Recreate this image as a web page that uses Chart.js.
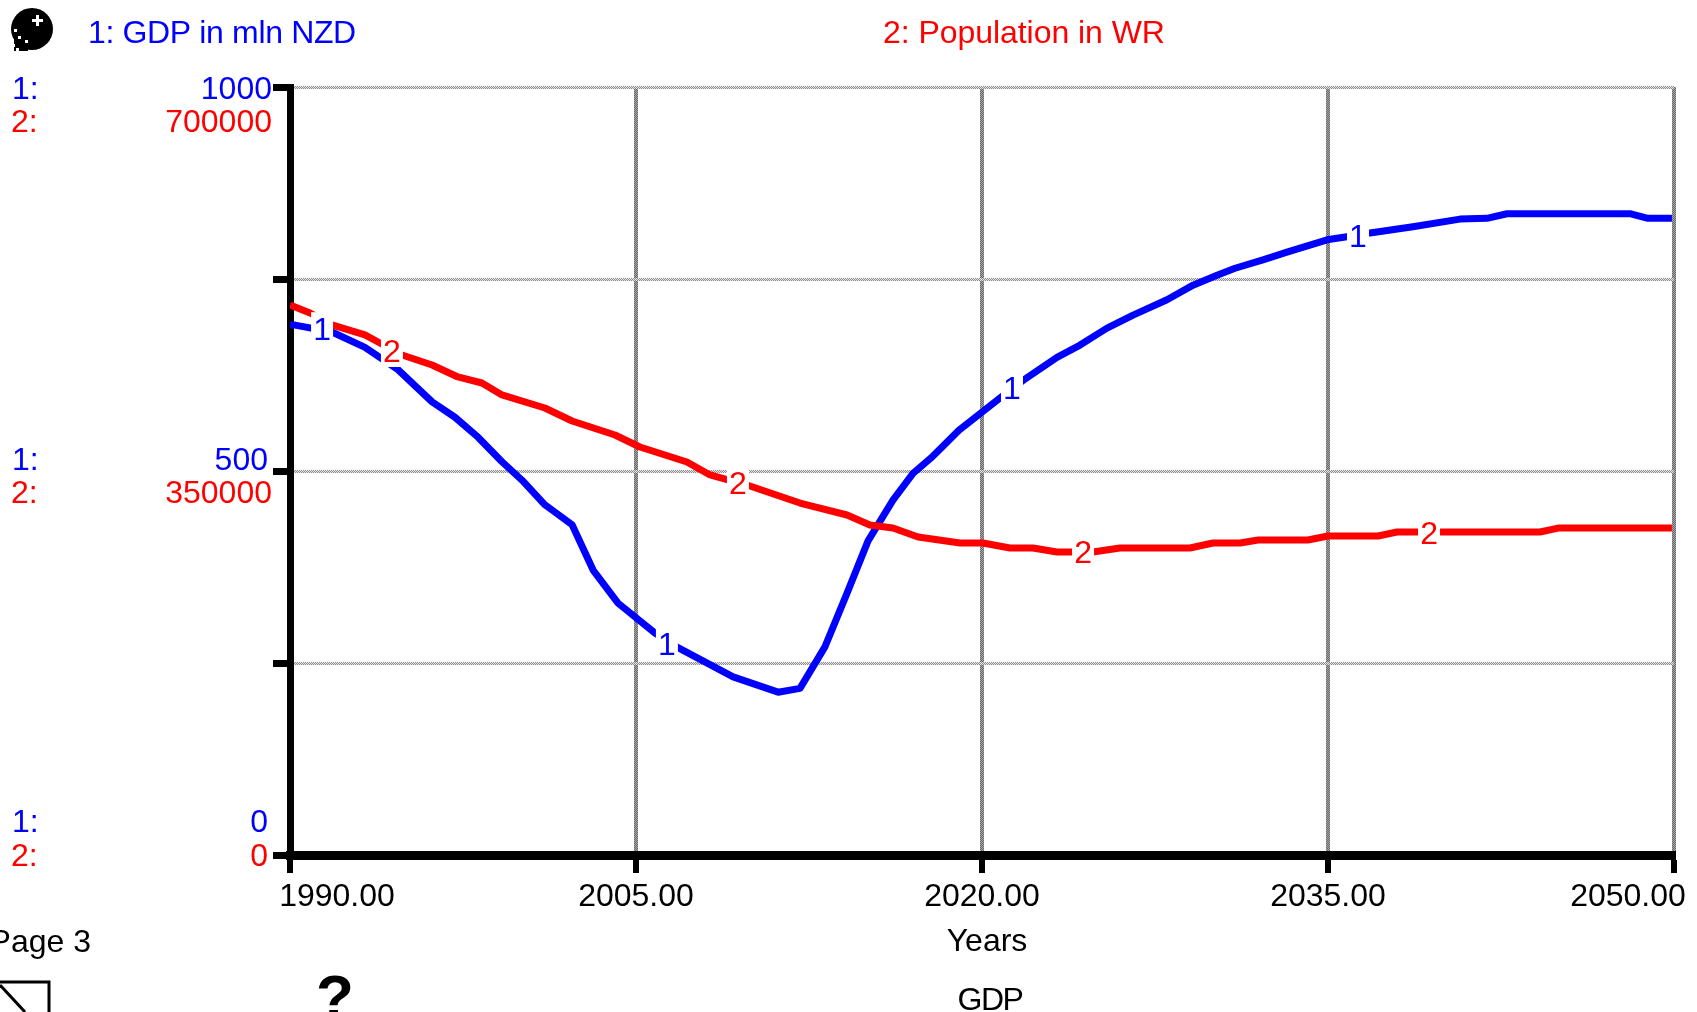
<!DOCTYPE html>
<html>
<head>
<meta charset="utf-8">
<style>html,body{margin:0;padding:0;background:#fff;overflow:hidden}canvas{display:block}</style>
<script src="https://cdn.jsdelivr.net/npm/chart.js@4"></script>
</head>
<body>
<canvas id="c" width="1697" height="1012"></canvas>
<script>
const gdpYears = [1990,1990.22,1991.82,1993.25,1994.68,1996.16,1997.15,1998.15,1999.19,2000.06,2001.05,2002.23,2003.14,2004.22,2005.82,2006.82,2009.21,2011.16,2012.11,2013.19,2014.15,2015.06,2016.14,2017.01,2017.79,2019.00,2020.78,2021.78,2023.25,2024.25,2025.42,2026.55,2028.02,2029.15,2030.19,2030.97,2032.18,2033.22,2034.96,2035.82,2036.82,2038.68,2040.72,2041.89,2042.76,2048.09,2048.87,2049.91];
const gdpValues = [690,690,681,661,632,590,570,544,512,488,456,430,371,328,289,270,232,212,217,271,341,409,462,497,517,553,595,618,648,664,686,703,723,742,755,764,775,785,801,805,810,818,828,829,835,835,829,829];
const popYears = [1990,1990.87,1991.82,1993.25,1993.90,1994.86,1996.16,1997.28,1998.32,1999.19,2001.05,2002.23,2004.09,2005.17,2007.21,2008.21,2009.81,2012.11,2014.15,2015.14,2016.14,2017.23,2019.05,2020.04,2021.21,2022.21,2023.25,2024.81,2025.98,2029.02,2030.01,2031.19,2031.97,2034.13,2035.00,2037.17,2037.99,2044.19,2044.97,2049.91];
const popValues = [501300,494000,483100,474000,466700,455700,446600,435700,430200,419300,407400,395600,382800,371900,358200,346400,337200,320800,309900,300800,298000,289800,284400,284400,279800,279800,276200,276200,279800,279800,284400,284400,287100,287100,290800,290800,294400,294400,298000,298000];
const gdpMarkerYears = [1991.39,2006.34,2021.30,2036.30];
const gdpMarkerValues = [686,276,609,807];
const popMarkerYears = [1994.42,2009.42,2024.38,2039.38];
const popMarkerValues = [459400,339100,276200,294400];
const xTicks = [1990,2005,2020,2035,2050];
const gdpAxisTicks = [1000,500,0];
const popAxisTicks = [700000,350000,0];
const seriesNames = ['1: GDP in mln NZD','2: Population in WR'];
const BLUE='#0000ff', RED='#ff0000';
const FONT='"Liberation Sans", Arial, sans-serif';

function dither(a,b){
  const p=document.createElement('canvas');p.width=2;p.height=2;
  const g=p.getContext('2d');
  g.fillStyle=a;g.fillRect(0,0,2,2);
  g.fillStyle=b;g.fillRect(0,0,1,1);g.fillRect(1,1,1,1);
  return g.createPattern(p,'repeat');
}
const ctx0=document.getElementById('c').getContext('2d');

function put(ctx,str,x,y,align,color,font,spacing){
  ctx.save();
  ctx.font=font||('32px '+FONT);
  ctx.fillStyle=color;
  ctx.textAlign=align||'left';
  ctx.textBaseline='alphabetic';
  ctx.letterSpacing=(spacing||0)+'px';
  ctx.fillText(str,x,y);
  ctx.restore();
}

const decor={
  id:'decor',
  beforeDraw(chart){
    const c=chart.ctx;c.save();c.fillStyle='#fff';c.fillRect(0,0,chart.width,chart.height);c.restore();
  },
  afterDatasetsDraw(chart){
    const c=chart.ctx,x=chart.scales.x,y=chart.scales.y,y2=chart.scales.y2;
    const mark=(yr,v,scale,txt,col)=>{
      const px=x.getPixelForValue(yr),py=scale.getPixelForValue(v);
      c.save();c.fillStyle='#fff';c.fillRect(px-11,py-16,22,32);c.restore();
      put(c,txt,px,py+11.5,'center',col);
    };
    gdpMarkerYears.forEach((yr,i)=>mark(yr,gdpMarkerValues[i],y,'1',BLUE));
    popMarkerYears.forEach((yr,i)=>mark(yr,popMarkerValues[i],y2,'2',RED));
  },
  afterDraw(chart){
    const c=chart.ctx,x=chart.scales.x;
    // series legend
    put(c,seriesNames[0],88,43,'left',BLUE,null,-0.35);
    put(c,seriesNames[1],883,43,'left',RED,null,-0.05);
    // y axis labels
    const gdpBase=[99,470,832], popBase=[132,503,866], gdpRight=[272,268,268], popRight=[272,272,268];
    gdpAxisTicks.forEach((v,i)=>{
      put(c,'1:',12,gdpBase[i],'left',BLUE);
      put(c,String(v),gdpRight[i],gdpBase[i],'right',BLUE);
    });
    popAxisTicks.forEach((v,i)=>{
      put(c,'2:',11,popBase[i],'left',RED);
      put(c,String(v),popRight[i],popBase[i],'right',RED);
    });
    // x axis labels
    const shift=[47,0,0,0,-46];
    xTicks.forEach((v,i)=>put(c,v.toFixed(2),x.getPixelForValue(v)+shift[i],906,'center','#000'));
    put(c,'Years',987,951,'center','#000');
    put(c,'GDP',990,1010,'center','#000',null,-1.5);
    put(c,'Page 3',91,952,'right','#000');
    put(c,'?',335,1018,'center','#000','bold 62px '+FONT);
    // page-turn icon
    c.save();
    c.strokeStyle='#000';c.lineWidth=3;
    c.beginPath();c.moveTo(0,982);c.lineTo(49,982);c.lineTo(49,1012);c.stroke();
    c.beginPath();c.moveTo(0,985);c.lineTo(25,1012);c.stroke();
    // ball icon
    c.fillStyle='#000';
    c.beginPath();c.arc(32,29,21,0,Math.PI*2);c.fill();
    c.fillRect(14,40,14,11);
    c.fillStyle='#fff';
    c.fillRect(36,15,3,11);c.fillRect(32,19,11,3);
    [[14,29],[18,36],[25,40],[12,44],[16,48]].forEach(d=>c.fillRect(d[0],d[1],3,3));
    c.restore();
  }
};

new Chart(ctx0,{
  type:'line',
  data:{datasets:[
    {label:seriesNames[0],yAxisID:'y',order:2,borderColor:BLUE,borderWidth:7,pointRadius:0,tension:0,borderJoinStyle:'round',fill:false,
     data:gdpYears.map((t,i)=>({x:t,y:gdpValues[i]}))},
    {label:seriesNames[1],yAxisID:'y2',order:1,borderColor:RED,borderWidth:7,pointRadius:0,tension:0,borderJoinStyle:'round',fill:false,
     data:popYears.map((t,i)=>({x:t,y:popValues[i]}))}
  ]},
  options:{
    responsive:false,animation:false,
    layout:{padding:{top:87,right:23,left:0,bottom:0}},
    plugins:{legend:{display:false},title:{display:false},tooltip:{enabled:false}},
    scales:{
      x:{type:'linear',min:1990,max:2050,
         afterBuildTicks(s){s.ticks=xTicks.map(v=>({value:v}));},
         afterFit(s){s.height=157;},
         ticks:{display:false},
         border:{display:true,color:'#000',width:9},
         grid:{color:dither('#666666','#a8a8a8'),lineWidth:4,tickColor:'#000',tickWidth:6,tickLength:18,drawTicks:true}},
      y:{type:'linear',position:'left',min:0,max:1000,
         afterFit(s){s.width=290;},
         ticks:{display:false,stepSize:250},
         border:{display:true,color:'#000',width:7},
         grid:{color:dither('#8c8c8c','#e8e8e8'),lineWidth:3,tickColor:'#000',tickWidth:7,tickLength:17,drawTicks:true}},
      y2:{type:'linear',position:'right',display:false,min:0,max:700000}
    }
  },
  plugins:[decor]
});
</script>
</body>
</html>
